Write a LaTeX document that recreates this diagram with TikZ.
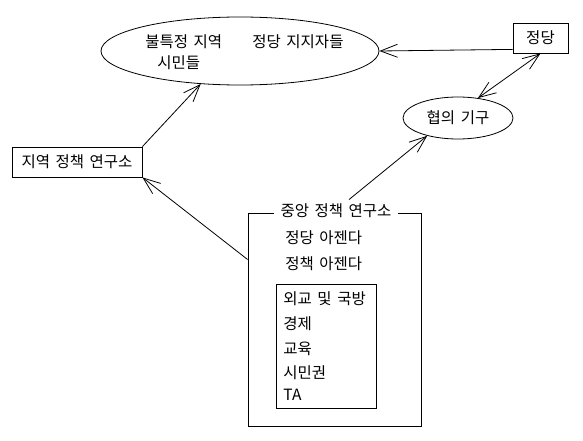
\documentclass[tikz,border=0pt]{standalone}
\usepackage{fontspec}
\setmainfont[WordSpace=1.6]{Noto Sans CJK KR}
\usepackage{tikz}
\usetikzlibrary{arrows.meta,shapes.geometric}

\begin{document}
\begin{tikzpicture}[x=1pt,y=-1pt,line width=0.8pt,
  >={Straight Barb[length=17pt,width=13pt]},
  box/.style={draw,rectangle,inner sep=0pt},
  oval/.style={draw,ellipse,inner sep=0pt},
  txt/.style={inner sep=0pt,anchor=base west}]
\fontsize{15.5}{18}\selectfont
\useasboundingbox (0,0) rectangle (583,441);
% oval
\node [oval, minimum width=278pt, minimum height=68pt] (pub) at (240,51) {};
\node [txt] (pubA) at (145,48) {불특정 지역};
\node [txt] (pubB) at (252,48) {정당 지지자들};
\node [txt] (pubC) at (157,69) {시민들};
% right
\node [box, minimum width=55pt, minimum height=30pt] (party) at (540.5,38) {정당};
\node [oval, minimum width=110pt, minimum height=42pt] (council) at (458,118) {협의 기구};
% left
\node [box, minimum width=130pt, minimum height=30pt] (local) at (77,162) {지역 정책 연구소};
% central
\node [box, minimum width=173pt, minimum height=213pt] (central) at (334.5,319.5) {};
\node [fill=white, inner xsep=7pt, inner ysep=1pt] (title) at (336,211) {중앙 정책 연구소};
\node [txt] (agendaA) at (285,243) {정당 아젠다};
\node [txt] (agendaB) at (285,269) {정책 아젠다};
\node [box, minimum width=100pt, minimum height=124pt] (topics) at (326,346) {};
\foreach \t/\y [count=\i] in {외교 및 국방/304, 경제/329, 교육/354, 시민권/378, TA/400}
  \node [txt] (topic\i) at (283,\y) {\t};
% arrows
\draw [->] (local.north east) -- (pub.220);
\draw [->] ([yshift=4pt]party.south west) -- (pub.east);
\draw [<->] (party.south) -- (council.45);
\draw [->] ([xshift=13pt,yshift=3pt]title.north) -- (council.210);
\draw [->] ([yshift=60pt]central.west) -- (local.south east);
\end{tikzpicture}
\end{document}
